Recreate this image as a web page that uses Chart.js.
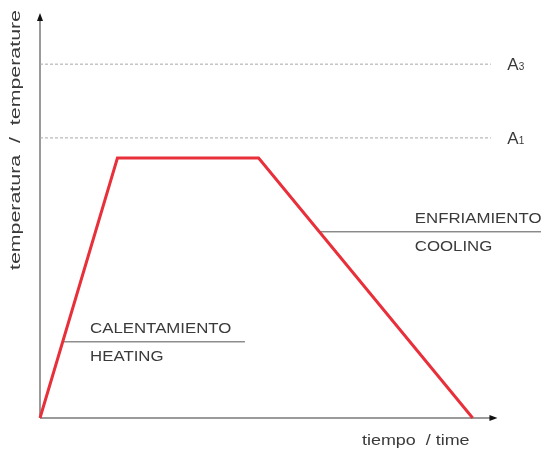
<!DOCTYPE html>
<html>
<head>
<meta charset="utf-8">
<script src="https://cdn.jsdelivr.net/npm/chart.js@4"></script>
<style>
  html, body { margin: 0; padding: 0; background: #fff; }
  #wrap { width: 546px; height: 450px; }
</style>
</head>
<body>
<div id="wrap"><canvas id="grafico"></canvas></div>
<script>
// ciclo de tratamiento termico
const tiempo = [0, 17, 48, 95];
const temperatura = [0, 64.5, 64.5, 0];

// temperaturas criticas
const criticas = ['A3', 'A1'];
const criticasValor = [87.8, 69.5];

// etiquetas de etapas
const etapas = [
    { es: 'CALENTAMIENTO', en: 'HEATING', nivel: 18.9, desde: 4.9, hasta: 45, texto: 11 },
    { es: 'ENFRIAMIENTO', en: 'COOLING', nivel: 46.2, desde: 61.3, hasta: 110, texto: 82.3 }
];

const ejeX = 100;
const ejeY = 100;

const fuente = '"Liberation Sans", Arial, sans-serif';

const datasets = [{
    data: tiempo.map((t, i) => ({ x: t, y: temperatura[i] })),
    borderColor: '#e8303a',
    borderWidth: 3,
    pointRadius: 0,
    tension: 0,
    clip: false,
    order: 0
}];

criticasValor.forEach(v => {
    datasets.push({
        data: [{ x: 0, y: v }, { x: 99, y: v }],
        borderColor: '#a8a8a8',
        borderWidth: 1,
        borderDash: [3, 2],
        pointRadius: 0,
        order: 2
    });
});

etapas.forEach(e => {
    datasets.push({
        data: [{ x: e.desde, y: e.nivel }, { x: e.hasta, y: e.nivel }],
        borderColor: '#555',
        borderWidth: 1,
        pointRadius: 0,
        clip: false,
        order: 1
    });
});

// texto ensanchado (la fuente original es mas ancha)
function textoAncho(ctx, texto, x, y, factor) {
    ctx.save();
    ctx.translate(x, y);
    ctx.scale(factor, 1);
    ctx.fillText(texto, 0, 0);
    ctx.restore();
}

// ejes con flecha y textos
const dibujo = {
    id: 'dibujo',
    beforeDatasetsDraw(chart) {
        const ctx = chart.ctx;
        const x = chart.scales.x, y = chart.scales.y;
        const x0 = x.getPixelForValue(0), y0 = y.getPixelForValue(0);
        const xe = x.getPixelForValue(ejeX), ye = y.getPixelForValue(ejeY);
        ctx.save();
        ctx.strokeStyle = '#9a9a9a';
        ctx.lineWidth = 2;
        ctx.beginPath();
        ctx.moveTo(x0, y0);
        ctx.lineTo(x0, ye + 4);
        ctx.moveTo(x0, y0);
        ctx.lineTo(xe - 4, y0);
        ctx.stroke();
        ctx.fillStyle = '#111';
        ctx.beginPath();
        ctx.moveTo(x0, ye - 2);
        ctx.lineTo(x0 - 3, ye + 6);
        ctx.lineTo(x0 + 3, ye + 6);
        ctx.fill();
        ctx.beginPath();
        ctx.moveTo(xe + 2, y0);
        ctx.lineTo(xe - 6, y0 - 3);
        ctx.lineTo(xe - 6, y0 + 3);
        ctx.fill();
        ctx.restore();
    },
    afterDraw(chart) {
        const ctx = chart.ctx;
        const x = chart.scales.x, y = chart.scales.y;
        ctx.save();
        ctx.fillStyle = '#3a3a3a';
        ctx.textBaseline = 'middle';
        ctx.textAlign = 'left';

        // temperaturas criticas
        criticas.forEach((c, i) => {
            const py = y.getPixelForValue(criticasValor[i]);
            const px = x.getPixelForValue(102.6);
            ctx.font = '17px ' + fuente;
            ctx.fillText(c[0], px, py + 1);
            const w = ctx.measureText(c[0]).width;
            ctx.font = '10px ' + fuente;
            ctx.fillText(c.slice(1), px + w, py + 3);
        });

        // etapas
        ctx.font = '14px ' + fuente;
        etapas.forEach(e => {
            const py = y.getPixelForValue(e.nivel);
            const px = x.getPixelForValue(e.texto);
            textoAncho(ctx, e.es, px, py - 13, 1.2);
            textoAncho(ctx, e.en, px, py + 15, 1.2);
        });

        // titulos de ejes
        ctx.font = '14px ' + fuente;
        textoAncho(ctx, 'tiempo  / time', 362, y.getPixelForValue(0) + 23, 1.28);

        ctx.translate(16, 140);
        ctx.rotate(-Math.PI / 2);
        const t = 'temperatura  /  temperature';
        const w = ctx.measureText(t).width;
        textoAncho(ctx, t, -130, 0, 260 / w);
        ctx.restore();
    }
};

new Chart(document.getElementById('grafico'), {
    type: 'line',
    data: { datasets: datasets },
    options: {
        responsive: true,
        maintainAspectRatio: false,
        animation: false,
        layout: { padding: { left: 40, right: 5, top: 15, bottom: 32 } },
        plugins: { legend: { display: false }, tooltip: { enabled: false } },
        scales: {
            x: { type: 'linear', min: 0, max: 110, display: false },
            y: { type: 'linear', min: 0, max: 100, display: false }
        }
    },
    plugins: [dibujo]
});
</script>
</body>
</html>
